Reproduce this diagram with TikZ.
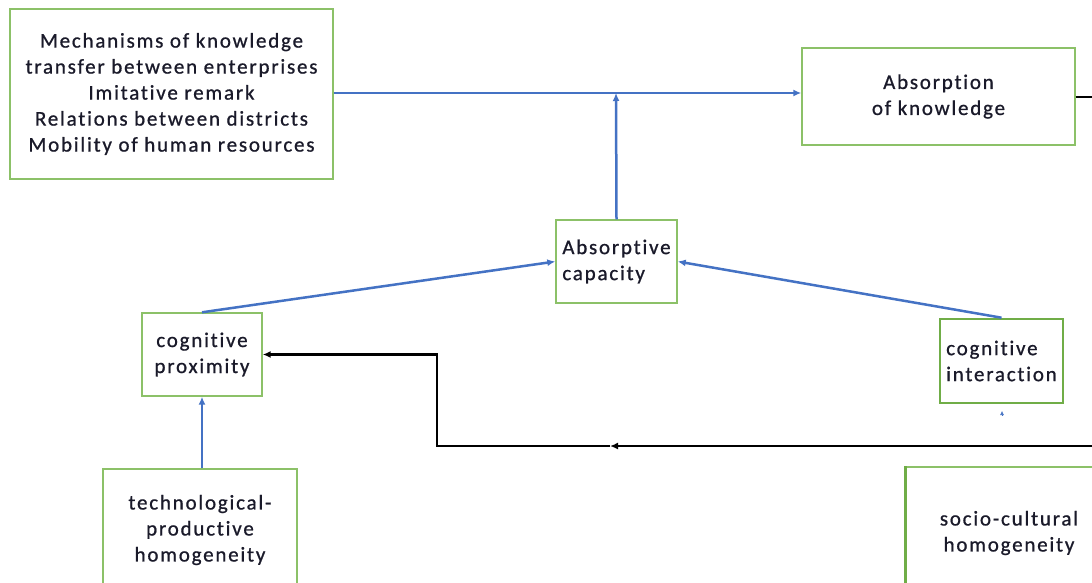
\documentclass[tikz,border=0pt]{standalone}
\usepackage{fontspec}
\setmainfont{Carlito}[LetterSpace=8.5,FakeBold=0.8,Ligatures={NoCommon}]
\usetikzlibrary{arrows.meta}
\definecolor{boxgreen}{HTML}{8CC168}
\definecolor{boxgreenD}{HTML}{70AD47}
\definecolor{lineblue}{HTML}{4472C4}
\definecolor{txt}{HTML}{1A1A2A}
\tikzset{
  box/.style={draw=boxgreen, line width=1.4pt, fill=white, align=center, inner sep=0pt,
    font=\fontsize{21}{26}\selectfont, text=txt},
  thickbox/.style={box, draw=boxgreenD, line width=2.6pt},
  bluearrow/.style={draw=lineblue, line width=2.5pt, -{Latex[length=8pt,width=7pt]}},
  blackarrow/.style={draw=black, line width=2.5pt, -{Latex[length=8pt,width=7pt]}},
}
\begin{document}
\begin{tikzpicture}[x=1pt,y=-1pt]
\useasboundingbox (0,0) rectangle (1092,582);
\clip (0,0) rectangle (1092,582);
\fill[white] (0,0) rectangle (1092,582);

\node[box, minimum width=323pt, minimum height=170pt] (mech) at (171.5,94)
  {Mechanisms of knowledge\\transfer between enterprises\\Imitative remark\\Relations between districts\\Mobility of human resources};
\node[box, minimum width=273pt, minimum height=97pt] (absk) at (938.5,96.5)
  {Absorption\\of knowledge};
\node[box, align=left, minimum width=121pt, minimum height=83pt] (absc) at (616.5,261.5)
  {Absorptive\\capacity};
\node[box, minimum width=120pt, minimum height=83pt] (prox) at (202,354.5)
  {cognitive\\proximity};
\node[thickbox, align=left, minimum width=123pt, minimum height=84pt] (inter) at (1001.5,361)
  {cognitive\\interaction};
\node[box, minimum width=194pt, minimum height=122pt] (tech) at (200,530)
  {technological-\\productive\\homogeneity};
\node[box, minimum width=206pt, minimum height=132pt] (socio) at (1009,533)
  {socio-cultural\\homogeneity};
\draw[boxgreenD, line width=2.6pt] (socio.north west) -- (socio.south west);

\coordinate (j) at (616,93);
\draw[bluearrow] (mech.east |- 0,93) -- (absk.west |- 0,93);
\draw[bluearrow] (absc.north) -- (j);
\draw[bluearrow] (prox.north) -- (absc.west);
\draw[bluearrow] (inter.north) -- (absc.east);
\draw[bluearrow] (tech.north -| prox.south) -- (prox.south);
\coordinate (tipA) at (1002,415);
\coordinate (tipB) at (1002,411);
\draw[draw=lineblue, line width=0.6pt, -{Latex[length=4pt,width=4pt]}] (tipA) -- (tipB);

\coordinate (r1) at (1092,97);
\draw[black, line width=2.5pt] (absk.east |- r1) -- (r1);
\coordinate (r2) at (1092,446);
\coordinate (m) at (610,446);
\coordinate (c) at (437,446);
\draw[blackarrow] (r2) -- (m);
\draw[blackarrow] (m) -- (c) |- (prox.east);
\end{tikzpicture}
\end{document}
